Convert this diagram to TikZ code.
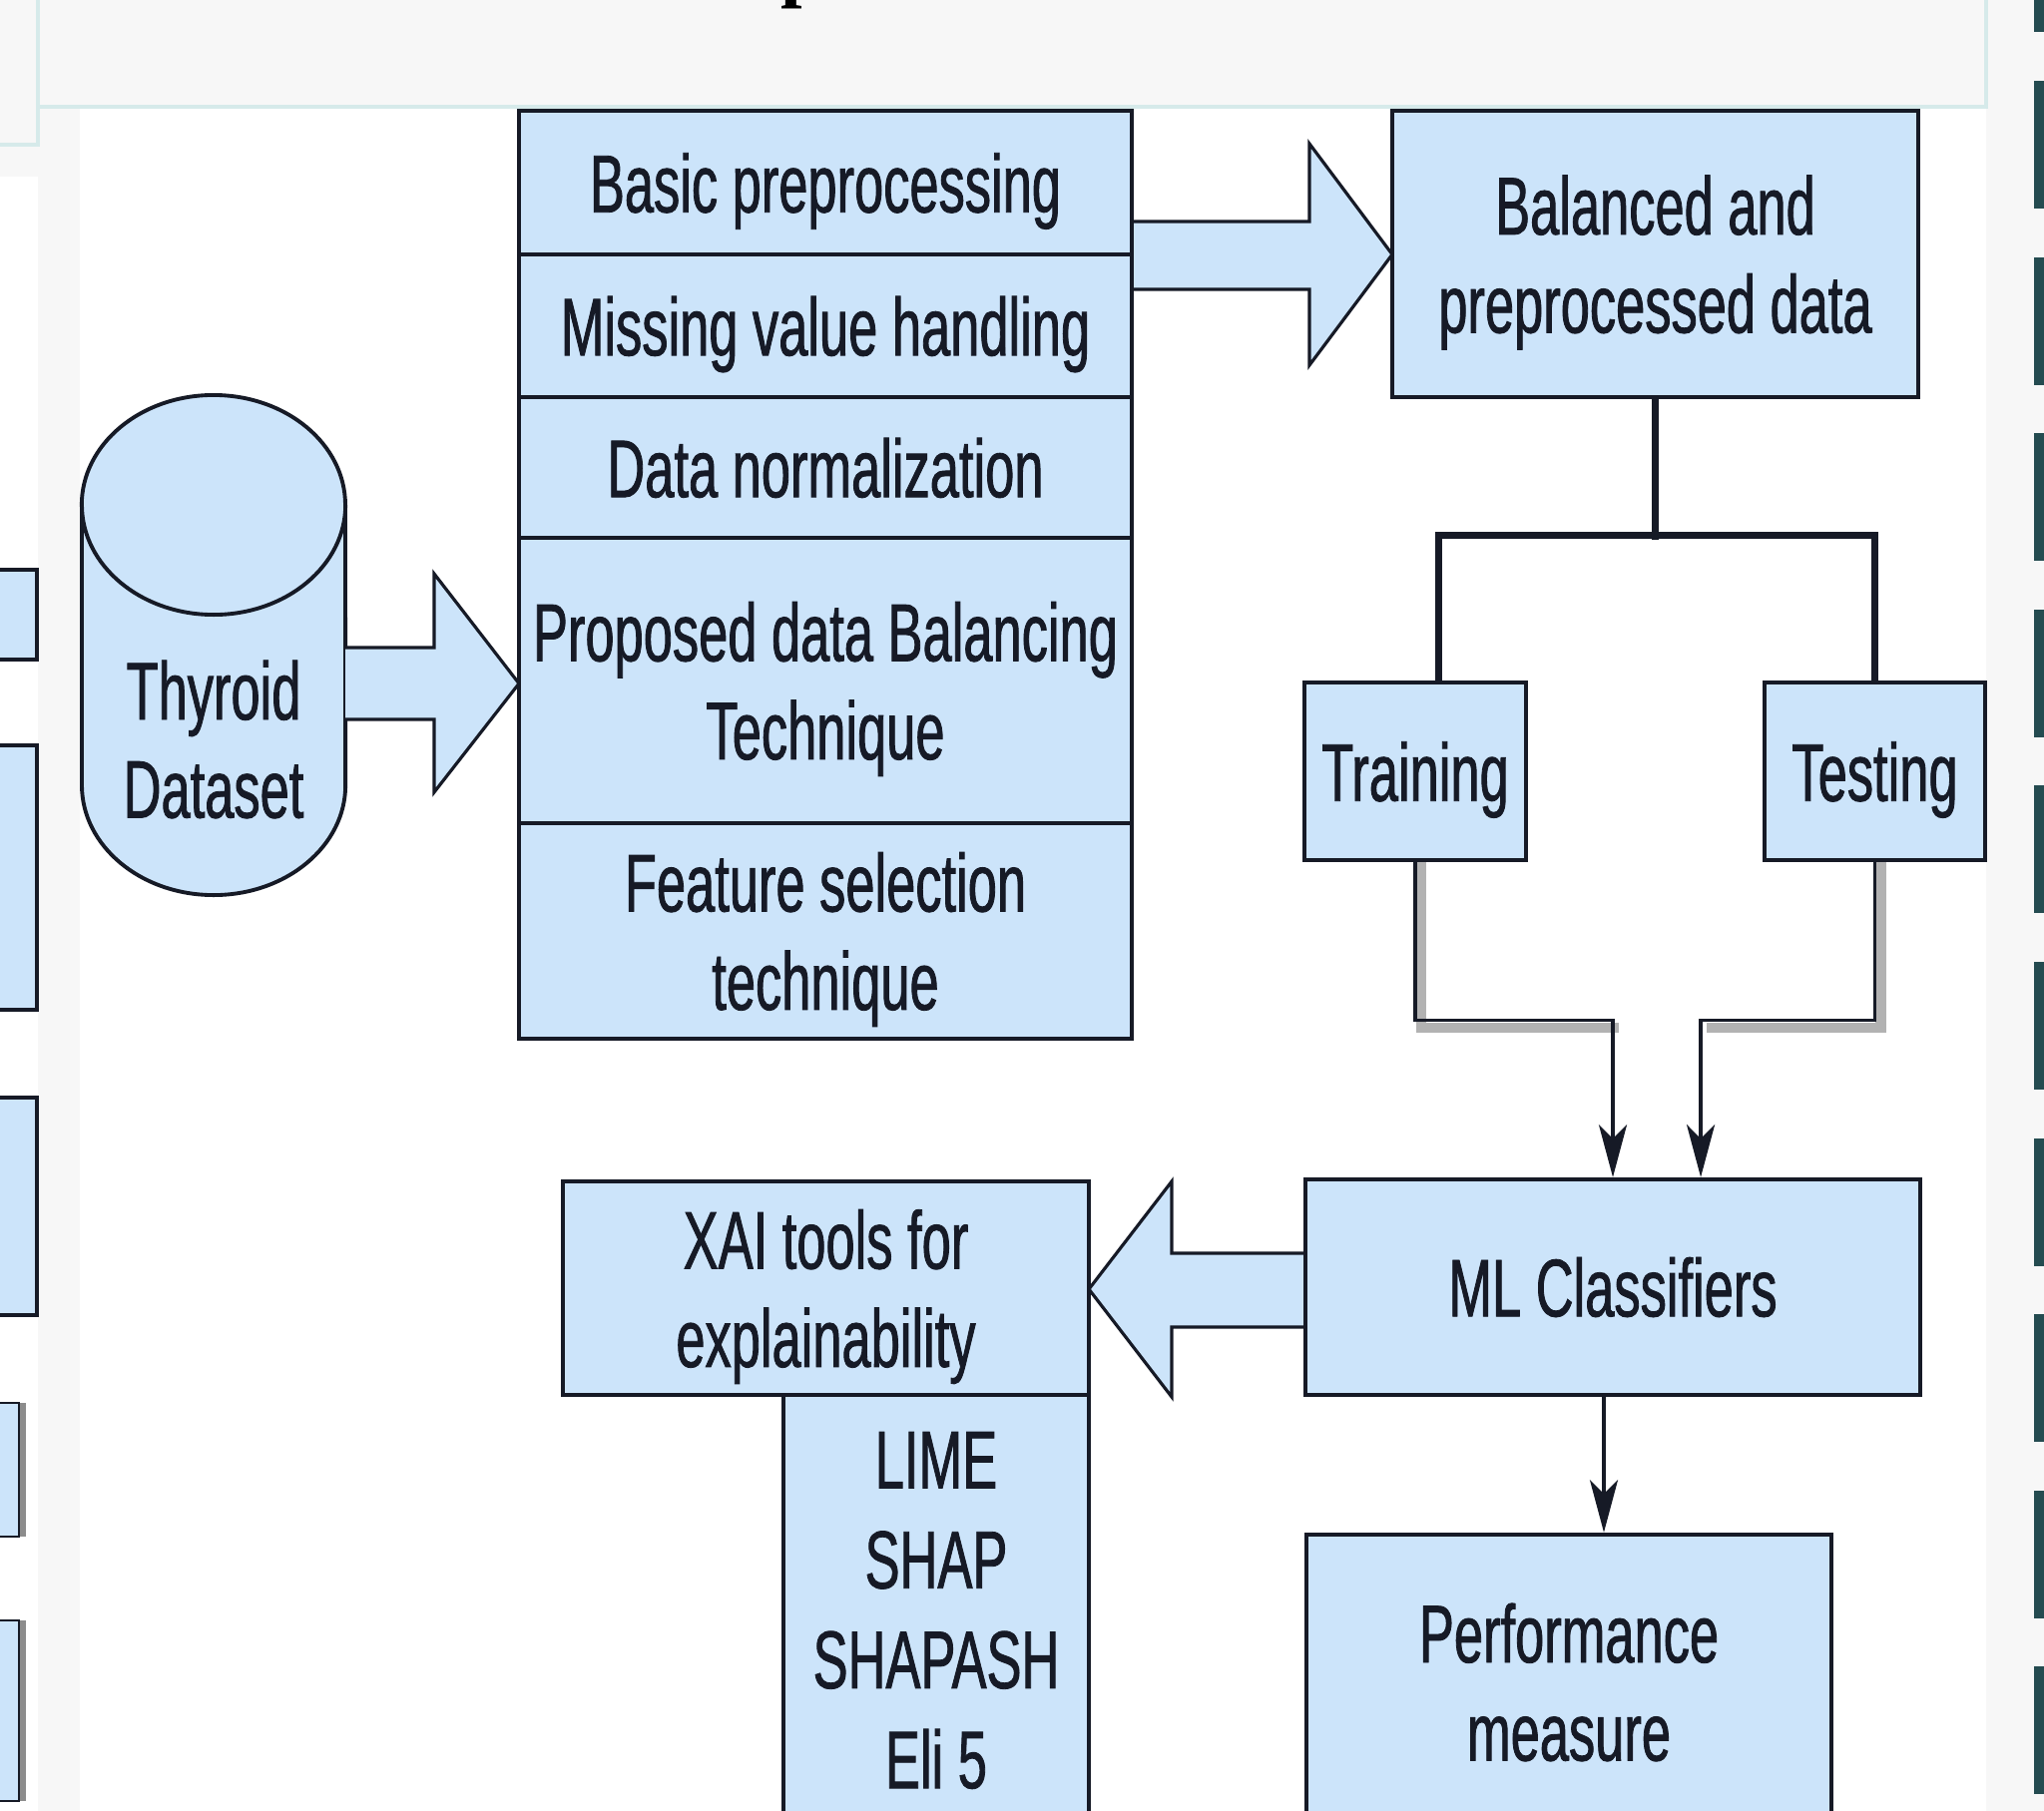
\documentclass[tikz,border=0pt]{standalone}
\usepackage{fontspec}
\setmainfont{Liberation Sans}[FakeStretch=0.64,FakeBold=1]
\newfontfamily\titlefont{Liberation Serif}
\usetikzlibrary{arrows.meta,calc}
\definecolor{boxblue}{RGB}{204,228,250}
\definecolor{pagegray}{RGB}{247,247,247}
\definecolor{edgeteal}{RGB}{214,234,234}
\definecolor{barteal}{RGB}{36,75,80}
\definecolor{inkdark}{RGB}{22,26,38}
\tikzset{
  box/.style={draw=inkdark,fill=boxblue,line width=1.2pt,align=center,inner sep=0pt,
    text=inkdark,font=\fontsize{23.3}{28}\selectfont},
  lowtext/.style={text depth=-0.05cm},
  drum/.style={draw=inkdark,fill=boxblue,line width=1.1pt},
  fatarrow/.style={draw=inkdark,fill=boxblue,line width=0.9pt,line join=miter},
  split/.style={draw=inkdark,line width=2pt},
  feed/.style={draw=inkdark,line width=0.9pt,-{Stealth[length=15pt,width=8pt,inset=4pt]}},
  shadeline/.style={draw=black!30,line width=3pt}
}
\begin{document}
\begin{tikzpicture}[x=0.01cm,y=-0.01cm]
\clip (0,0) rectangle (2048,1815);
\fill[pagegray] (0,0) rectangle (2048,1815);
\fill[white] (80,108) rectangle (1990,1815);
\fill[white] (0,177) rectangle (38,1815);
\draw[edgeteal,line width=1pt] (0,145) -- (38,145) -- (38,0);
\draw[edgeteal,line width=1pt] (38,107) -- (1990,107) -- (1990,0);
\node[anchor=base west,inner sep=0pt,text=black,font=\titlefont\bfseries\fontsize{22}{26}\selectfont] (cut) at (782,-8) {p};

\foreach \a/\b in {571/661,747/1012,1100/1318}
  \draw[drum] (-10,\a) rectangle (37,\b);
\foreach \a/\b in {1406/1540,1624/1805}{
  \fill[black!45] (-10,\a) rectangle (26,\b);
  \draw[drum,line width=0.8pt] (-10,\a) rectangle (19,\b);}
\foreach \i in {-1,...,9}
  \fill[barteal] (2038,81+176.6*\i) rectangle (2050,209+176.6*\i);

\draw[drum] (82,506) -- (82,787) arc[start angle=180,end angle=360,x radius=1.32cm,y radius=1.10cm]
  -- (346,506) arc[start angle=0,end angle=180,x radius=1.32cm,y radius=1.10cm] -- cycle;
\draw[drum,fill=none] (82,506) arc[start angle=180,end angle=360,x radius=1.32cm,y radius=1.10cm];
\node[align=center,text=inkdark,font=\fontsize{23.3}{28}\selectfont] (data) at (214,741) {Thyroid\\Dataset};

\draw[fatarrow] (346,649) -- (435,649) -- (435,575) -- (520,685) -- (435,794) -- (435,721) -- (346,721);
\draw[fatarrow] (1134,222) -- (1312,222) -- (1312,144) -- (1395,255) -- (1312,366) -- (1312,290) -- (1134,290);
\draw[fatarrow] (1308,1256) -- (1174,1256) -- (1174,1184) -- (1091,1292) -- (1174,1400) -- (1174,1330) -- (1308,1330);

\node[box,lowtext,minimum width=6.14cm,minimum height=1.44cm] (basic) at (827,183) {Basic preprocessing};
\node[box,lowtext,minimum width=6.14cm,minimum height=1.43cm] (missing) at (827,326.5) {Missing value handling};
\node[box,text depth=0pt,minimum width=6.14cm,minimum height=1.41cm] (norm) at (827,468.5) {Data normalization};
\node[box,lowtext,minimum width=6.14cm,minimum height=2.86cm] (balance) at (827,682) {Proposed data Balancing\\Technique};
\node[box,lowtext,minimum width=6.14cm,minimum height=2.16cm] (feature) at (827,933) {Feature selection\\technique};

\node[box,lowtext,minimum width=5.27cm,minimum height=2.87cm] (clean) at (1658.5,254.5) {Balanced and\\preprocessed data};
\node[box,lowtext,minimum width=2.22cm,minimum height=1.78cm] (train) at (1418,773) {Training};
\node[box,lowtext,minimum width=2.21cm,minimum height=1.78cm] (test) at (1878.5,773) {Testing};
\node[box,minimum width=6.16cm,minimum height=2.16cm] (ml) at (1616,1290) {ML Classifiers};
\node[box,minimum width=5.26cm,minimum height=2.96cm] (perf) at (1572,1686) {Performance\\measure};
\node[box,lowtext,minimum width=5.27cm,minimum height=2.14cm] (xai) at (827.5,1291) {XAI tools for\\explainability};
\node[box,minimum width=3.06cm,minimum height=4.32cm,font=\fontsize{23.3}{28.5}\selectfont] (tools) at (938,1614) {LIME\\SHAP\\SHAPASH\\Eli 5};

\draw[split] (clean.south) -- ++(0,141);
\draw[split] ([xshift=0.23cm]train.north) -- ++(0,-145) -| (test.north);

\draw[shadeline] ($(train.south)+(6,0)$) |- ($(ml.north)+(6,-150)$);
\draw[shadeline] ($(test.south)+(6,0)$) |- ($(ml.north)+(94,-150)$);
\draw[feed] (train.south) -- ++(0,158) -| (ml.north);
\draw[feed] (test.south) -- ++(0,158) -| ([xshift=0.88cm]ml.north);
\draw[feed] ([xshift=-0.09cm]ml.south) -- ([xshift=-0.09cm]ml.south |- perf.north);
\end{tikzpicture}
\end{document}
